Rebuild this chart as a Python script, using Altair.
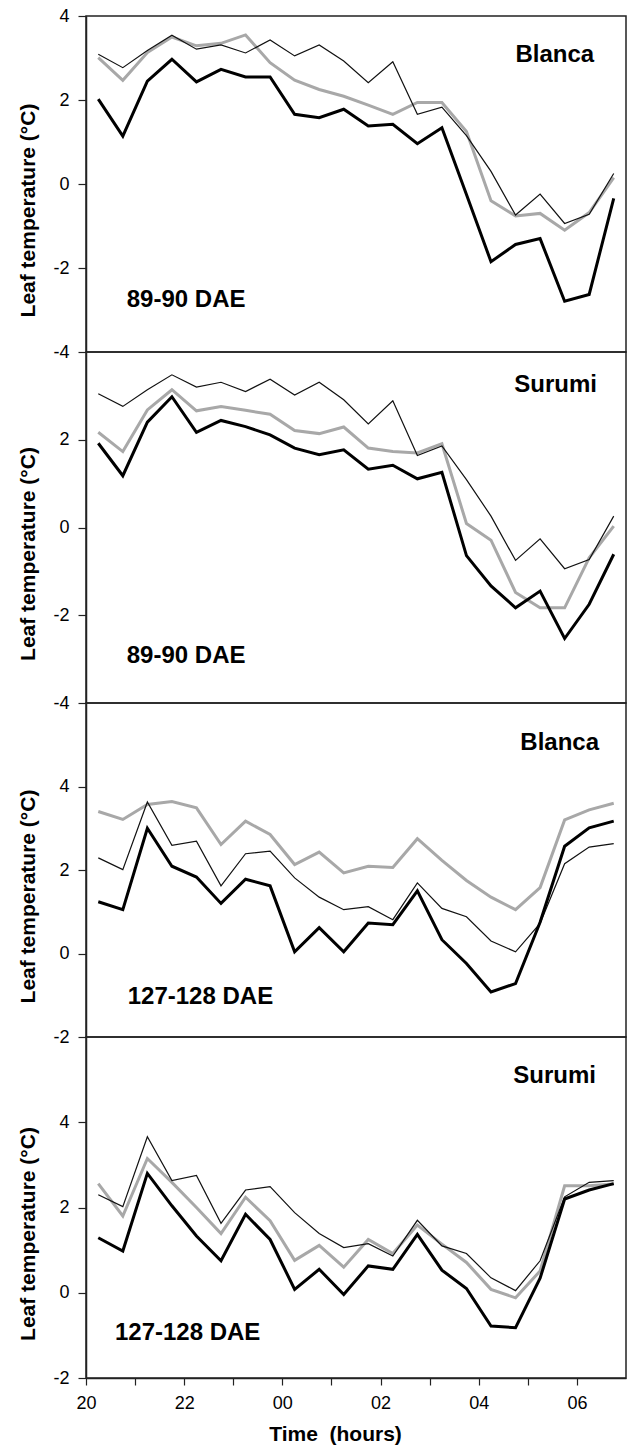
import altair as alt
import pandas as pd

# sampling times (hours after midnight of day 1; 24 = 00:00)
hours = [20.25, 20.75, 21.25, 21.75, 22.25, 22.75, 23.25, 23.75, 24.25, 24.75, 25.25,
         25.75, 26.25, 26.75, 27.25, 27.75, 28.25, 28.75, 29.25, 29.75, 30.25, 30.75]

# Panel 1: Blanca, 89-90 DAE
p1_thick = [2.02, 1.14, 2.45, 2.97, 2.43, 2.73, 2.55, 2.55, 1.66, 1.58, 1.78, 1.38, 1.42, 0.96, 1.34, -0.25, -1.85, -1.44, -1.30, -2.79, -2.63, -0.34]
p1_thin = [3.09, 2.77, 3.18, 3.54, 3.21, 3.31, 3.12, 3.43, 3.05, 3.31, 2.93, 2.41, 2.91, 1.66, 1.83, 1.15, 0.30, -0.74, -0.24, -0.94, -0.72, 0.25]
p1_gray = [3.01, 2.47, 3.13, 3.50, 3.29, 3.35, 3.55, 2.89, 2.47, 2.25, 2.09, 1.88, 1.66, 1.94, 1.94, 1.25, -0.40, -0.76, -0.70, -1.10, -0.68, 0.15]

# Panel 2: Surumi, 89-90 DAE
p2_thick = [1.92, 1.18, 2.40, 2.98, 2.17, 2.44, 2.30, 2.11, 1.81, 1.66, 1.77, 1.33, 1.42, 1.11, 1.26, -0.64, -1.33, -1.83, -1.45, -2.53, -1.75, -0.61]
p2_thin = [3.05, 2.76, 3.14, 3.48, 3.20, 3.31, 3.10, 3.38, 3.02, 3.31, 2.91, 2.36, 2.89, 1.64, 1.86, 1.09, 0.26, -0.75, -0.26, -0.94, -0.73, 0.26]
p2_gray = [2.17, 1.73, 2.68, 3.14, 2.66, 2.76, 2.67, 2.58, 2.21, 2.14, 2.29, 1.81, 1.73, 1.70, 1.91, 0.09, -0.29, -1.48, -1.83, -1.83, -0.69, 0.03]

# Panel 3: Blanca, 127-128 DAE
p3_thick = [1.24, 1.05, 3.00, 2.09, 1.83, 1.20, 1.78, 1.62, 0.04, 0.62, 0.04, 0.73, 0.69, 1.50, 0.33, -0.24, -0.92, -0.72, 0.75, 2.57, 3.01, 3.17]
p3_thin = [2.29, 2.01, 3.63, 2.59, 2.69, 1.62, 2.39, 2.45, 1.81, 1.35, 1.05, 1.12, 0.81, 1.69, 1.08, 0.88, 0.30, 0.04, 0.72, 2.15, 2.55, 2.63]
p3_gray = [3.40, 3.21, 3.57, 3.64, 3.49, 2.61, 3.17, 2.85, 2.13, 2.43, 1.93, 2.09, 2.06, 2.75, 2.23, 1.75, 1.35, 1.05, 1.58, 3.20, 3.44, 3.60]

# Panel 4: Surumi, 127-128 DAE
p4_thick = [1.29, 0.98, 2.80, 2.04, 1.33, 0.75, 1.84, 1.25, 0.08, 0.55, -0.04, 0.63, 0.55, 1.37, 0.53, 0.10, -0.78, -0.82, 0.34, 2.20, 2.41, 2.56]
p4_thin = [2.30, 2.02, 3.66, 2.63, 2.75, 1.63, 2.41, 2.49, 1.88, 1.39, 1.06, 1.15, 0.86, 1.70, 1.10, 0.92, 0.35, 0.05, 0.75, 2.25, 2.59, 2.63]
p4_gray = [2.56, 1.80, 3.15, 2.59, 2.00, 1.39, 2.24, 1.69, 0.76, 1.11, 0.60, 1.25, 0.92, 1.59, 1.14, 0.71, 0.08, -0.12, 0.51, 2.51, 2.51, 2.55]

cultivars = ["Blanca", "Surumi", "Blanca", "Surumi"]
dae_labels = ["89-90 DAE", "89-90 DAE", "127-128 DAE", "127-128 DAE"]
cultivar_x = [30.35, 30.41, 30.45, 30.39]
cultivar_y = [3.08, 3.24, 5.05, 5.08]
dae_x = [20.83, 20.83, 20.85, 20.59]
dae_y = [-2.75, -2.92, -1.03, -0.94]

y_domains = [[-4, 4], [-4, 4], [-2, 6], [-2, 6]]
y_ticks = [[-4, -2, 0, 2, 4], [-4, -2, 0, 2], [-2, 0, 2, 4], [-2, 0, 2, 4]]
heights = [336, 351, 334, 341]

x_ticks = [20, 20.5, 21, 21.5, 22, 22.5, 23, 23.5, 24, 24.5, 25, 25.5, 26, 26.5,
           27, 27.5, 28, 28.5, 29, 29.5, 30, 30.5]

series = [
    (p1_thick, p1_thin, p1_gray),
    (p2_thick, p2_thin, p2_gray),
    (p3_thick, p3_thin, p3_gray),
    (p4_thick, p4_thin, p4_gray),
]

FONT = "Liberation Sans"
W = 540

panels = []
for i in range(4):
    thick, thin, gray = series[i]
    rows = []
    for name, vals in (("gray", gray), ("thin", thin), ("thick", thick)):
        for t, v in zip(hours, vals):
            rows.append({"time": t, "value": v, "series": name})
    df = pd.DataFrame(rows)
    h = heights[i]

    if i == 3:
        xaxis = alt.Axis(
            values=x_ticks,
            labelExpr="datum.value % 2 == 0 ? (datum.value < 24 ? '' + datum.value : format(datum.value - 24, '02d')) : ''",
            tickSize=7, labelPadding=9, labelFlush=False, labelOverlap=False,
            title="Time\u00a0\u00a0(hours)", titleX=249, titleY=56,
            titleBaseline="middle", titleAlign="center", grid=False,
        )
    else:
        xaxis = None

    yaxis = alt.Axis(
        values=y_ticks[i], labelExpr="'' + datum.value",
        tickSize=8, labelPadding=9, labelOverlap=False,
        labelFlush=False, grid=False,
        title="Leaf temperature (°C)", titleAngle=270, titleAlign="center",
        titleBaseline="middle", titleX=-58, titleY=h / 2 + 26,
    )

    x_enc = alt.X("time:Q", scale=alt.Scale(domain=[20, 31], nice=False, zero=False), axis=xaxis)
    y_enc = alt.Y("value:Q", scale=alt.Scale(domain=y_domains[i], nice=False, zero=False), axis=yaxis)

    base = alt.Chart(df).encode(x=x_enc, y=y_enc)
    gray_l = base.transform_filter("datum.series == 'gray'").mark_line(color="#a8a8a8", strokeWidth=3)
    thin_l = base.transform_filter("datum.series == 'thin'").mark_line(color="#111111", strokeWidth=1.2)
    thick_l = base.transform_filter("datum.series == 'thick'").mark_line(color="#000000", strokeWidth=3)

    lab_df = pd.DataFrame({
        "time": [cultivar_x[i], dae_x[i]],
        "value": [cultivar_y[i], dae_y[i]],
        "text": [cultivars[i], dae_labels[i]],
    })
    cult_t = alt.Chart(lab_df.iloc[[0]]).mark_text(
        align="right", baseline="middle", font=FONT, fontSize=24, fontWeight="bold", color="black"
    ).encode(x=alt.X("time:Q"), y=alt.Y("value:Q"), text="text:N")
    dae_t = alt.Chart(lab_df.iloc[[1]]).mark_text(
        align="left", baseline="middle", font=FONT, fontSize=24, fontWeight="bold", color="black"
    ).encode(x=alt.X("time:Q"), y=alt.Y("value:Q"), text="text:N")

    panel = alt.layer(gray_l, thin_l, thick_l, cult_t, dae_t).properties(width=W, height=h)
    panels.append(panel)

chart = alt.vconcat(*panels, spacing=0, bounds="flush").properties(
    padding={"top": 6, "left": 16, "right": 0, "bottom": 1}
).configure_view(
    stroke="#222222", strokeWidth=1.5
).configure_axis(
    labelFont=FONT, labelFontSize=18, labelColor="black",
    titleFont=FONT, titleFontSize=21, titleFontWeight="bold", titleColor="black",
    domainColor="#222222", domainWidth=1.5, tickColor="#222222", tickWidth=1.2,
)

chart.save("out.html", embed_options={"renderer": "svg", "actions": False})
